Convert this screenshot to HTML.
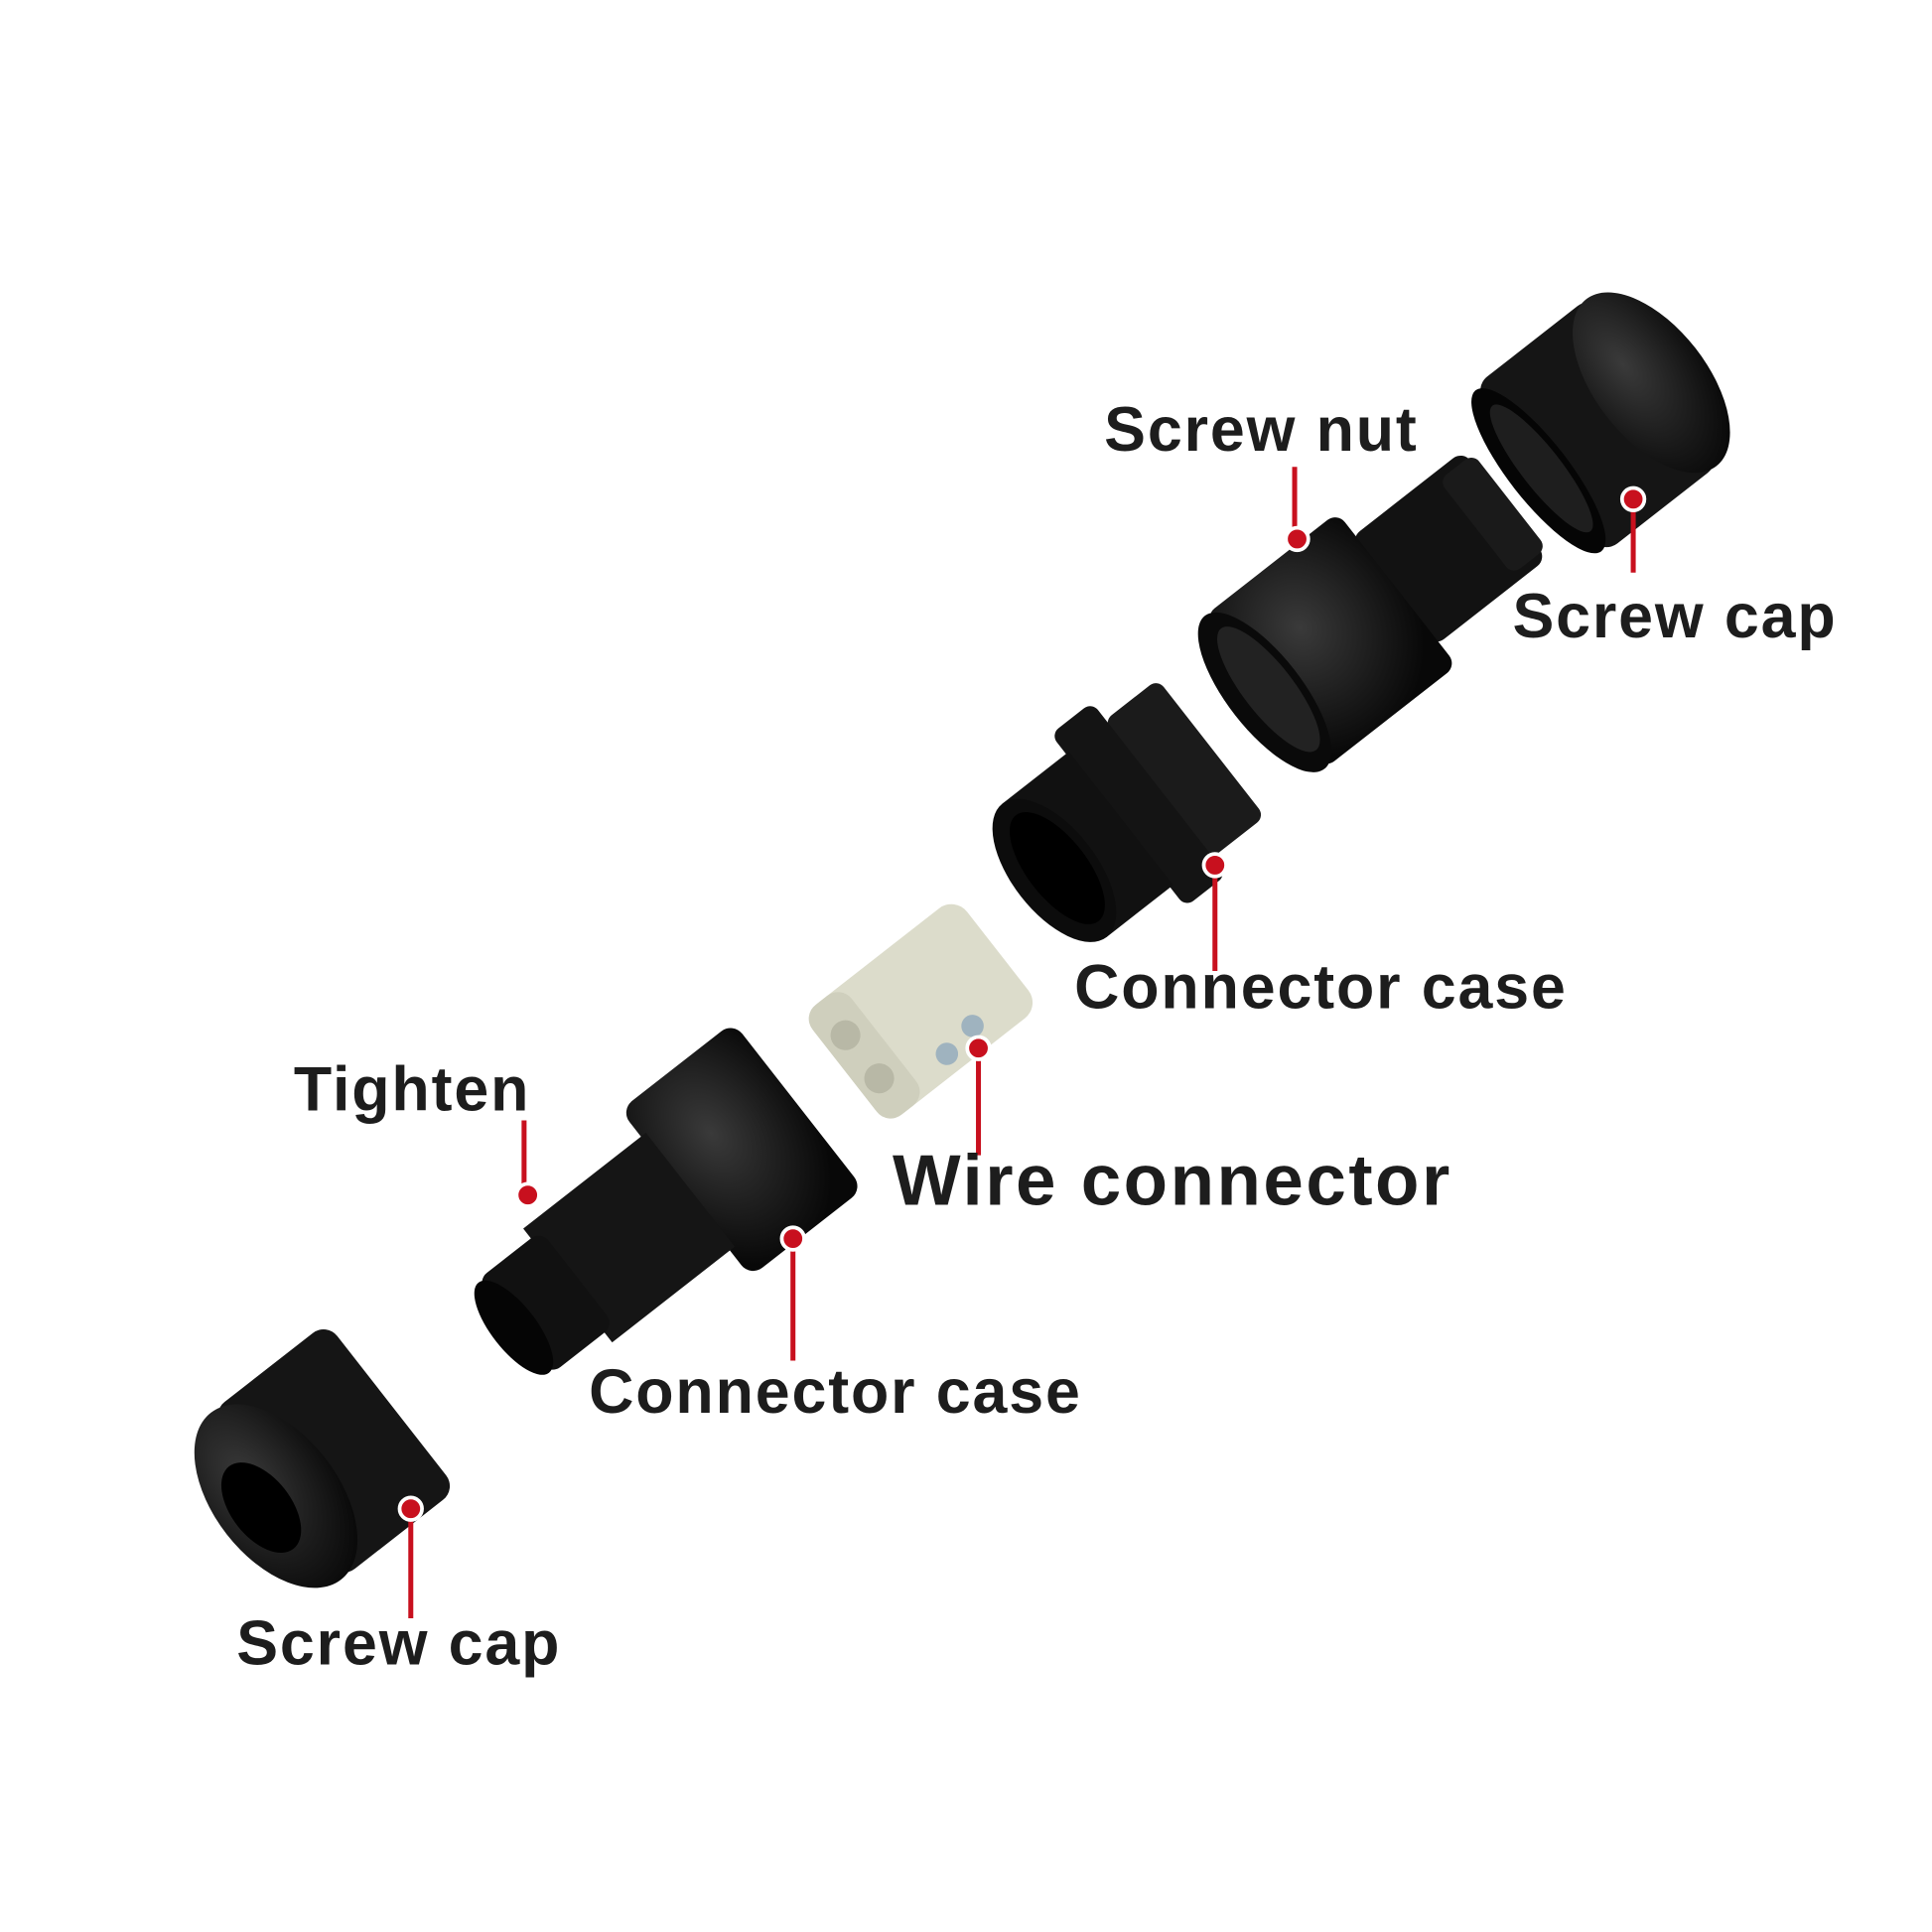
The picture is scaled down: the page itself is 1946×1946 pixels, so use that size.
<!DOCTYPE html>
<html><head><meta charset="utf-8"><style>
html,body{margin:0;padding:0;background:#fff;}
svg{display:block}
text{font-family:"Liberation Sans",sans-serif;font-weight:bold;fill:#1d1d1d}
</style></head><body>
<svg width="1946" height="1946" viewBox="0 0 1552 1552" xmlns="http://www.w3.org/2000/svg">
<defs>
<radialGradient id="g" cx="40%" cy="35%" r="70%"><stop offset="0" stop-color="#3a3a3a"/><stop offset="1" stop-color="#080808"/></radialGradient>
</defs>
<!-- top-right screw cap -->
<g transform="translate(1295,332) rotate(-38)">
<rect x="-75" y="-85" width="120" height="170" rx="14" fill="#151515"/>
<ellipse cx="40" cy="0" rx="45" ry="85" fill="url(#g)"/>
<ellipse cx="-75" cy="0" rx="24" ry="82" fill="#050505"/>
<ellipse cx="-72" cy="0" rx="16" ry="64" fill="#1e1e1e"/>
</g>
<!-- screw nut with threads -->
<g transform="translate(1075,510) rotate(-38)">
<rect x="55" y="-55" width="115" height="110" rx="10" fill="#121212"/>
<rect x="140" y="-48" width="35" height="96" rx="8" fill="#1a1a1a"/>
<rect x="-75" y="-78" width="135" height="156" rx="10" fill="url(#g)"/>
<ellipse cx="-75" cy="0" rx="30" ry="78" fill="#0a0a0a"/>
<ellipse cx="-71" cy="0" rx="20" ry="62" fill="#222"/>
</g>
<!-- upper connector case -->
<g transform="translate(910,650) rotate(-38)">
<rect x="25" y="-70" width="55" height="140" rx="8" fill="#1b1b1b"/>
<rect x="-15" y="-88" width="42" height="176" rx="8" fill="#141414"/>
<rect x="-80" y="-68" width="68" height="136" fill="#111"/>
<ellipse cx="-80" cy="0" rx="34" ry="68" fill="#0c0c0c"/>
<ellipse cx="-77" cy="0" rx="24" ry="54" fill="#000"/>
</g>
<!-- wire connector -->
<g transform="translate(740,812) rotate(-38)">
<rect x="-78" y="-56" width="156" height="112" rx="16" fill="#dcdccb"/>
<rect x="-78" y="-56" width="40" height="112" rx="14" fill="#cfcfbd"/>
<circle cx="-60" cy="-22" r="12" fill="#b8b8a6"/><circle cx="-60" cy="22" r="12" fill="#b8b8a6"/>
<circle cx="25" cy="35" r="9" fill="#9fb3bf"/><circle cx="-5" cy="40" r="9" fill="#9fb3bf"/>
</g>
<!-- lower connector case -->
<g transform="translate(590,928) rotate(-38)">
<rect x="-50" y="-85" width="115" height="170" rx="12" fill="url(#g)"/>
<rect x="-170" y="-58" width="125" height="116" fill="#151515"/>
<rect x="-225" y="-48" width="65" height="96" rx="10" fill="#111"/>
<ellipse cx="-225" cy="0" rx="18" ry="46" fill="#050505"/>
</g>
<!-- bottom-left screw cap -->
<g transform="translate(265,1168) rotate(-38)">
<rect x="-55" y="-85" width="118" height="170" rx="14" fill="#151515"/>
<ellipse cx="-55" cy="0" rx="50" ry="85" fill="url(#g)"/>
<ellipse cx="-70" cy="0" rx="24" ry="42" fill="#000"/>
</g>
<!-- connectors -->
<g stroke="#c8101e" stroke-width="4">
<line x1="1040" y1="375" x2="1040" y2="433"/>
<line x1="1312" y1="401" x2="1312" y2="460"/>
<line x1="976" y1="695" x2="976" y2="780"/>
<line x1="786" y1="842" x2="786" y2="928"/>
<line x1="421" y1="900" x2="421" y2="960"/>
<line x1="637" y1="995" x2="637" y2="1093"/>
<line x1="330" y1="1212" x2="330" y2="1300"/>
</g>
<g fill="#c8101e" stroke="#fff" stroke-width="3">
<circle cx="1042" cy="433" r="9"/><circle cx="1312" cy="401" r="9"/><circle cx="976" cy="695" r="9"/>
<circle cx="786" cy="842" r="9"/><circle cx="424" cy="960" r="9"/><circle cx="637" cy="995" r="9"/><circle cx="330" cy="1212" r="9"/>
</g>
<g font-size="50" letter-spacing="1.5">
<text x="887" y="362">Screw nut</text>
<text x="1215" y="512">Screw cap</text>
<text x="863" y="810">Connector case</text>
<text x="236" y="892">Tighten</text>
<text x="473" y="1135">Connector case</text>
<text x="190" y="1337">Screw cap</text>
</g>
<text x="717" y="968" font-size="58" letter-spacing="2">Wire connector</text>
</svg>
</body></html>
